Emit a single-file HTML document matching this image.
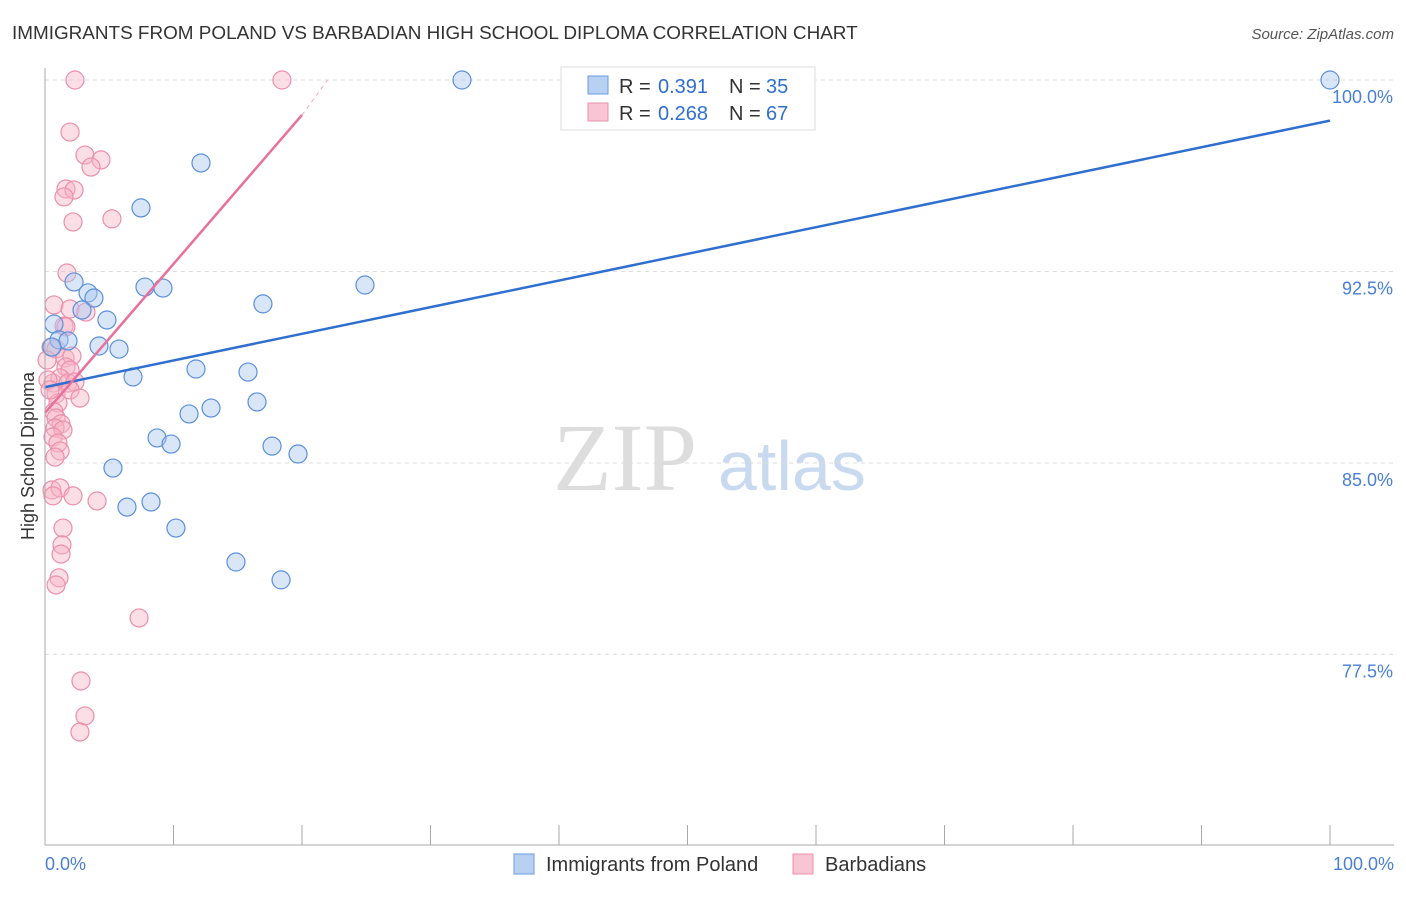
<!DOCTYPE html>
<html><head><meta charset="utf-8"><style>
body{margin:0;background:#fff;font-family:"Liberation Sans",sans-serif}
</style></head><body>
<svg width="1406" height="892" xmlns="http://www.w3.org/2000/svg">
<text x="12" y="39" font-size="18.9" fill="#333">IMMIGRANTS FROM POLAND VS BARBADIAN HIGH SCHOOL DIPLOMA CORRELATION CHART</text>
<text x="1394" y="39" font-size="15" fill="#555" text-anchor="end" font-style="italic">Source: ZipAtlas.com</text>
<text x="553" y="490" font-size="96" fill="#ddd" font-family="Liberation Serif">ZIP</text>
<text x="718" y="490" font-size="70" fill="#c9daf0">atlas</text>
<g id="grid"></g>
<g id="marks"></g>
<line x1="45" y1="68" x2="45" y2="845" stroke="#aaa"/>
<line x1="45" y1="845" x2="1394" y2="845" stroke="#aaa"/>
<text transform="translate(34,456) rotate(-90)" font-size="18" fill="#333" text-anchor="middle">High School Diploma</text>
<text x="45" y="870" font-size="18" fill="#4a7fd4">0.0%</text>
<text x="1394" y="870" font-size="18" fill="#4a7fd4" text-anchor="end">100.0%</text>
<g>
<rect x="561" y="67" width="254" height="63" fill="#fff" stroke="#ddd"/>
<rect x="588" y="76" width="20" height="18" fill="#b8d1f3" stroke="#6a9ae0"/>
<rect x="588" y="103" width="20" height="18" fill="#f9c4d3" stroke="#ec8fab"/>
<text font-size="20" fill="#333" y="93"><tspan x="619">R =</tspan><tspan x="658" fill="#2f6fd0">0.391</tspan><tspan x="729">N =</tspan><tspan x="766" fill="#2f6fd0">35</tspan></text>
<text font-size="20" fill="#333" y="120"><tspan x="619">R =</tspan><tspan x="658" fill="#2f6fd0">0.268</tspan><tspan x="729">N =</tspan><tspan x="766" fill="#2f6fd0">67</tspan></text>
</g>
<g>
<rect x="514" y="854" width="20" height="20" fill="#b8d1f3" stroke="#6a9ae0"/>
<text x="546" y="871" font-size="20" fill="#333">Immigrants from Poland</text>
<rect x="793" y="854" width="20" height="20" fill="#f9c4d3" stroke="#ec8fab"/>
<text x="825" y="871" font-size="20" fill="#333">Barbadians</text>
</g>
</svg>
<script>
const yTicks=[100,92.5,85,77.5];
const yTickLabels=["100.0%","92.5%","85.0%","77.5%"];
const xTicks=[0,10,20,30,40,50,60,70,80,90,100];
const polandX=[32.45,100,12.14,7.47,2.26,3.35,3.81,7.78,9.18,2.88,4.82,0.70,16.96,24.90,1.09,1.79,4.20,5.76,6.85,11.75,15.80,16.50,11.21,12.92,8.72,9.81,17.67,19.69,5.29,6.38,8.25,10.19,14.86,18.37,0.54];
const polandY=[100,100,96.75,94.99,92.09,91.66,91.46,91.89,91.85,90.99,90.60,90.44,91.23,91.97,89.82,89.78,89.58,89.46,88.37,88.68,88.56,87.39,86.92,87.15,85.98,85.74,85.66,85.35,84.80,83.27,83.47,82.45,81.12,80.42,89.54];
const barbX=[2.33,18.44,1.95,3.11,4.36,3.58,1.63,2.26,1.48,2.18,5.21,1.71,0.70,1.95,3.19,1.48,1.63,0.47,0.86,1.56,2.10,1.63,1.95,0.62,1.17,1.79,2.33,0.86,1.95,2.72,1.01,0.70,0.86,1.25,0.78,1.40,0.62,1.01,1.17,0.78,0.54,1.17,2.18,4.05,0.62,1.40,1.32,1.25,1.09,0.86,7.32,2.80,3.11,2.72,0.23,0.39,0.16];
const barbY=[100,100,97.96,97.06,96.87,96.59,95.73,95.69,95.42,94.44,94.56,92.44,91.19,91.03,90.91,90.36,90.33,89.54,89.46,89.11,89.19,88.76,88.64,88.13,88.33,88.13,88.17,87.70,87.86,87.54,87.35,87.00,86.76,86.53,86.37,86.29,86.02,85.78,85.47,85.23,83.94,84.02,83.71,83.51,83.71,82.45,81.79,81.43,80.50,80.22,78.93,76.46,75.09,74.46,88.25,87.86,89.03];
const polandLine=[[0,87.97],[100,98.41]];
const barbLine=[[0,86.96],[20,98.63]];
const barbDash=[[20,98.63],[22,100]];
const X=v=>45+v*12.85, Y=v=>80+(100-v)*25.53;
const NS="http://www.w3.org/2000/svg";
function mk(t,a,p){const e=document.createElementNS(NS,t);for(const k in a)e.setAttribute(k,a[k]);p.appendChild(e);return e;}
const grid=document.getElementById('grid'),marks=document.getElementById('marks');
yTicks.forEach((t,i)=>{
 const l=mk('line',{x1:45,x2:1394,y1:Y(t),y2:Y(t),stroke:'#ddd','stroke-dasharray':'4,4'},grid);
 
 
 const tx=mk('text',{x:1393,y:Y(t)+23,'font-size':18,fill:'#4a7fd4','text-anchor':'end'},grid);
 tx.textContent=yTickLabels[i];
 
 
});
xTicks.forEach(t=>{
 const l=mk('line',{x1:X(t),x2:X(t),y1:825,y2:845,stroke:'#aaa'},grid);
 
 
});
function pts(xs,ys,fill,stroke,name){xs.forEach((x,i)=>{
 const c=mk('circle',{cx:X(x),cy:Y(ys[i]),r:9,fill:fill,'fill-opacity':0.45,stroke:stroke,'stroke-width':1.2},marks);
 
 
});}
pts(barbX,barbY,'#f7b6c8','#ec8fab','barbadian-point');
pts(polandX,polandY,'#a9c8f0','#5b8fde','poland-point');
function ln(p,stroke,name,dash){const l=mk('line',{x1:X(p[0][0]),y1:Y(p[0][1]),x2:X(p[1][0]),y2:Y(p[1][1]),stroke:stroke,'stroke-width':2.5},marks);
 if(dash){l.setAttribute('stroke-dasharray','4,4');l.setAttribute('stroke-width','1');}
 
 }
ln(polandLine,'#2f6fd0','poland-trendline');
ln(barbLine,'#e8709a','barbadian-trendline');
ln(barbDash,'#f0a5bd','barbadian-trendline-extension',true);
</script>
</body></html>
